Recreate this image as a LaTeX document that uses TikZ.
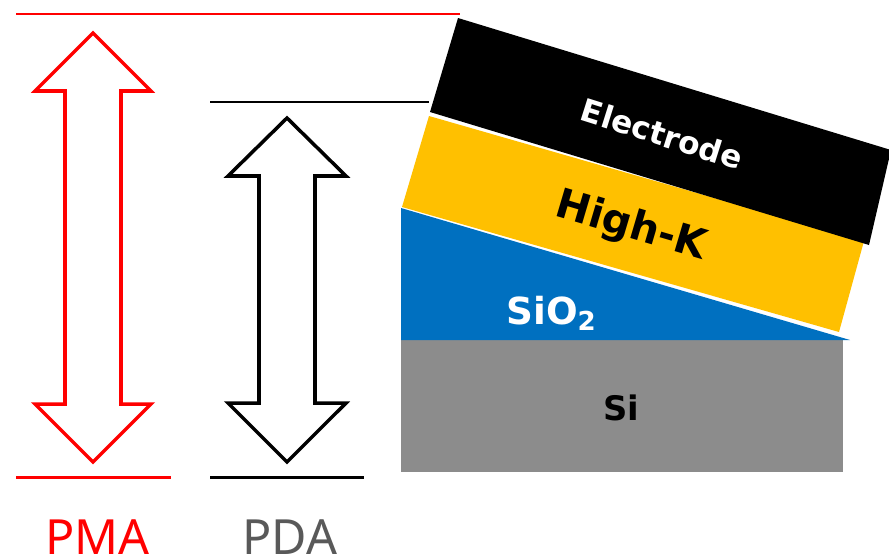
\documentclass[tikz,border=0pt]{standalone}
\usepackage{fontspec}
\setmainfont{DejaVu Sans}
\newfontfamily\notosans{Noto Sans}
\usetikzlibrary{arrows.meta, positioning, calc}
\definecolor{sigray}{HTML}{8C8C8C}
\definecolor{oxblue}{HTML}{0070C0}
\definecolor{hkgold}{HTML}{FFC000}
\definecolor{pdagray}{HTML}{595959}
\tikzset{
  level/.style={line width=0.85pt},
  dblarrow/.style={line width=1pt, miter limit=10},
  layerlabel/.style={inner sep=0pt},
  annealname/.style={inner sep=0pt, font=\notosans\fontsize{13.8}{16}\selectfont}
}

\begin{document}
\begin{tikzpicture}

% Canvas
\useasboundingbox (0,0) rectangle (8.89,5.59);
\fill[white] (0,0) rectangle (8.89,5.59);

% --- Film stack ---
\begin{scope}
\clip (0,0) rectangle (8.89,5.59);
\fill[sigray] (4.01,0.87) rectangle (8.43,2.19);
\fill[oxblue] (4.01,2.19) -- (4.01,3.51) -- (8.50,2.19) -- cycle;
\fill[hkgold] (4.02,3.52) -- (4.29,4.43) -- (8.64,3.18) -- (8.39,2.27) -- cycle;
\fill[black] (4.30,4.47) -- (4.58,5.41) -- (8.91,4.09) -- (8.69,3.14) -- cycle;
\end{scope}

% Layer names
\node[layerlabel, text=white, rotate=-17.5, font=\bfseries\fontsize{8.9}{10}\selectfont] (electrode) at (6.62,4.25) {Electrode};
\node[layerlabel, text=black, rotate=-16.5, font=\bfseries\fontsize{11.6}{13}\selectfont] (highk) at (6.31,3.32) {High-K};
\node[layerlabel, text=white, font=\bfseries\fontsize{10.6}{12}\selectfont] (sio) at (5.52,2.46) {SiO$_{\mathbf 2}$};
\node[layerlabel, text=black, font=\bfseries\fontsize{9.6}{11}\selectfont] (si) at (6.21,1.51) {Si};

% --- Level lines ---
\draw[level, red] (0.16,5.45) -- (4.60,5.45);
\draw[level, red] (0.16,0.82) -- (1.71,0.82);
\draw[level, black] (2.10,4.57) -- (4.29,4.57);
\draw[level, black] (2.10,0.82) -- (3.64,0.82);

% --- Double arrows ---
\draw[dblarrow, draw=red, fill=white] (0.93,5.26) -- (1.51,4.68) -- (1.21,4.68) -- (1.21,1.55)
  -- (1.51,1.55) -- (0.93,0.97) -- (0.35,1.55) -- (0.65,1.55) -- (0.65,4.68)
  -- (0.35,4.68) -- cycle;
\draw[dblarrow, draw=black, fill=white] (2.87,4.41) -- (3.46,3.83) -- (3.15,3.83) -- (3.15,1.56)
  -- (3.46,1.56) -- (2.87,0.97) -- (2.28,1.56) -- (2.59,1.56) -- (2.59,3.83)
  -- (2.28,3.83) -- cycle;

% Anneal names
\node[annealname, text=red] (pma) at (0.975,0.22) {PMA};
\node[annealname, text=pdagray] (pda) at (2.90,0.22) {PDA};

\end{tikzpicture}
\end{document}
